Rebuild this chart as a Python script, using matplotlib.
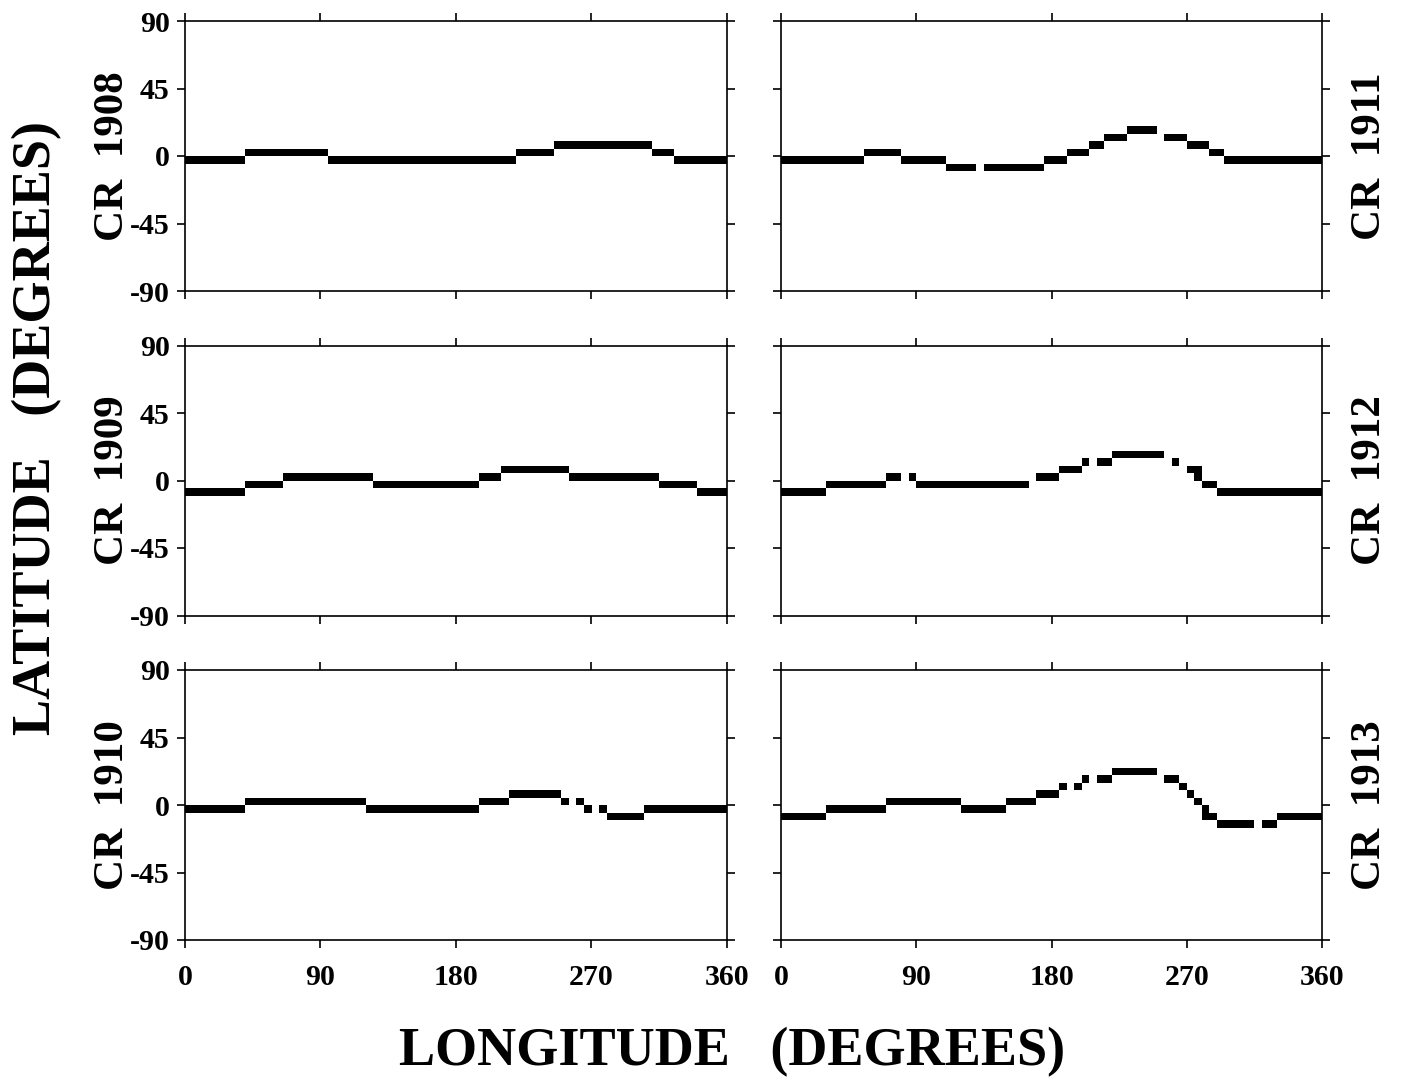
import matplotlib
matplotlib.use("Agg")
import matplotlib.pyplot as plt

plt.rcParams['font.family'] = ['Liberation Serif', 'DejaVu Serif']
plt.rcParams['font.weight'] = 'bold'
plt.rcParams['axes.unicode_minus'] = False

# neutral line cells: (lon start, lon end, lat bottom), cells are 5 deg tall
CELL_H = 5
cr1908 = [(0, 40, -5), (40, 95, 0), (95, 220, -5), (220, 245, 0), (245, 310, 5),
          (310, 325, 0), (325, 360, -5)]
cr1909 = [(0, 40, -10), (40, 65, -5), (65, 125, 0), (125, 195, -5), (195, 210, 0),
          (210, 255, 5), (255, 315, 0), (315, 340, -5), (340, 360, -10)]
cr1910 = [(0, 40, -5), (40, 120, 0), (120, 195, -5), (195, 215, 0), (215, 250, 5),
          (250, 255, 0), (260, 265, 0), (265, 270, -5), (275, 280, -5),
          (280, 305, -10), (305, 360, -5)]
cr1911 = [(0, 55, -5), (55, 80, 0), (80, 110, -5), (110, 130, -10), (135, 175, -10),
          (175, 190, -5), (190, 205, 0), (205, 215, 5), (215, 230, 10), (230, 250, 15),
          (255, 270, 10), (270, 285, 5), (285, 295, 0), (295, 360, -5)]
cr1912 = [(0, 30, -10), (30, 70, -5), (70, 80, 0), (85, 90, 0), (90, 165, -5),
          (170, 185, 0), (185, 200, 5), (200, 205, 10), (210, 220, 10), (220, 255, 15),
          (260, 265, 10), (270, 280, 5), (275, 280, 0), (280, 290, -5), (290, 360, -10)]
cr1913 = [(0, 30, -10), (30, 70, -5), (70, 120, 0), (120, 150, -5), (150, 170, 0),
          (170, 185, 5), (185, 190, 10), (195, 200, 10), (200, 205, 15), (210, 220, 15),
          (220, 250, 20), (255, 265, 15), (265, 270, 10), (270, 275, 5), (275, 280, 0),
          (280, 285, -5), (280, 290, -10), (290, 315, -15), (320, 330, -15),
          (330, 360, -10)]

left_panels = [("CR  1908", cr1908), ("CR  1909", cr1909), ("CR  1910", cr1910)]
right_panels = [("CR  1911", cr1911), ("CR  1912", cr1912), ("CR  1913", cr1913)]

lon_ticks = [0, 90, 180, 270, 360]
lat_ticks = [-90, -45, 0, 45, 90]

W, H = 1401, 1083
fig = plt.figure(figsize=(W / 100, H / 100), dpi=100)

col_x = [185, 781]
col_w = [542, 541]
row_top = [21, 345.5, 670]
row_h = 270

for col, panels in enumerate([left_panels, right_panels]):
    for row, (name, cells) in enumerate(panels):
        ax = fig.add_axes([col_x[col] / W, 1 - (row_top[row] + row_h) / H,
                           col_w[col] / W, row_h / H])
        for lon0, lon1, lat in cells:
            ax.bar(lon0, CELL_H, width=lon1 - lon0, bottom=lat, align='edge',
                   color='black', linewidth=0)
        ax.set_xlim(0, 360)
        ax.set_ylim(-90, 90)
        ax.set_xticks(lon_ticks)
        ax.set_yticks(lat_ticks)
        ax.set_yticklabels([str(t) for t in lat_ticks])
        ax.tick_params(direction='out', length=6, width=1.2, top=True, right=True,
                       labelsize=21.5, pad=5)
        ax.tick_params(axis='x', pad=11)
        if row < 2:
            ax.tick_params(labelbottom=False)
        if col == 1:
            ax.tick_params(labelleft=False)
        for sp in ax.spines.values():
            sp.set_linewidth(1.2)

        yc = 1 - (row_top[row] + row_h / 2) / H
        xc = 113 / W if col == 0 else 1370 / W
        fig.text(xc, yc, name, rotation=90, ha='center', va='center',
                 fontsize=31, fontweight='bold')

fig.text(37 / W, 1 - 428 / H, "LATITUDE   (DEGREES)", rotation=90, ha='center',
         va='center', fontsize=39, fontweight='bold')
fig.text(732 / W, 1 - 1052 / H, "LONGITUDE   (DEGREES)", ha='center', va='center',
         fontsize=39, fontweight='bold')

fig.savefig("out.png", dpi=100)
